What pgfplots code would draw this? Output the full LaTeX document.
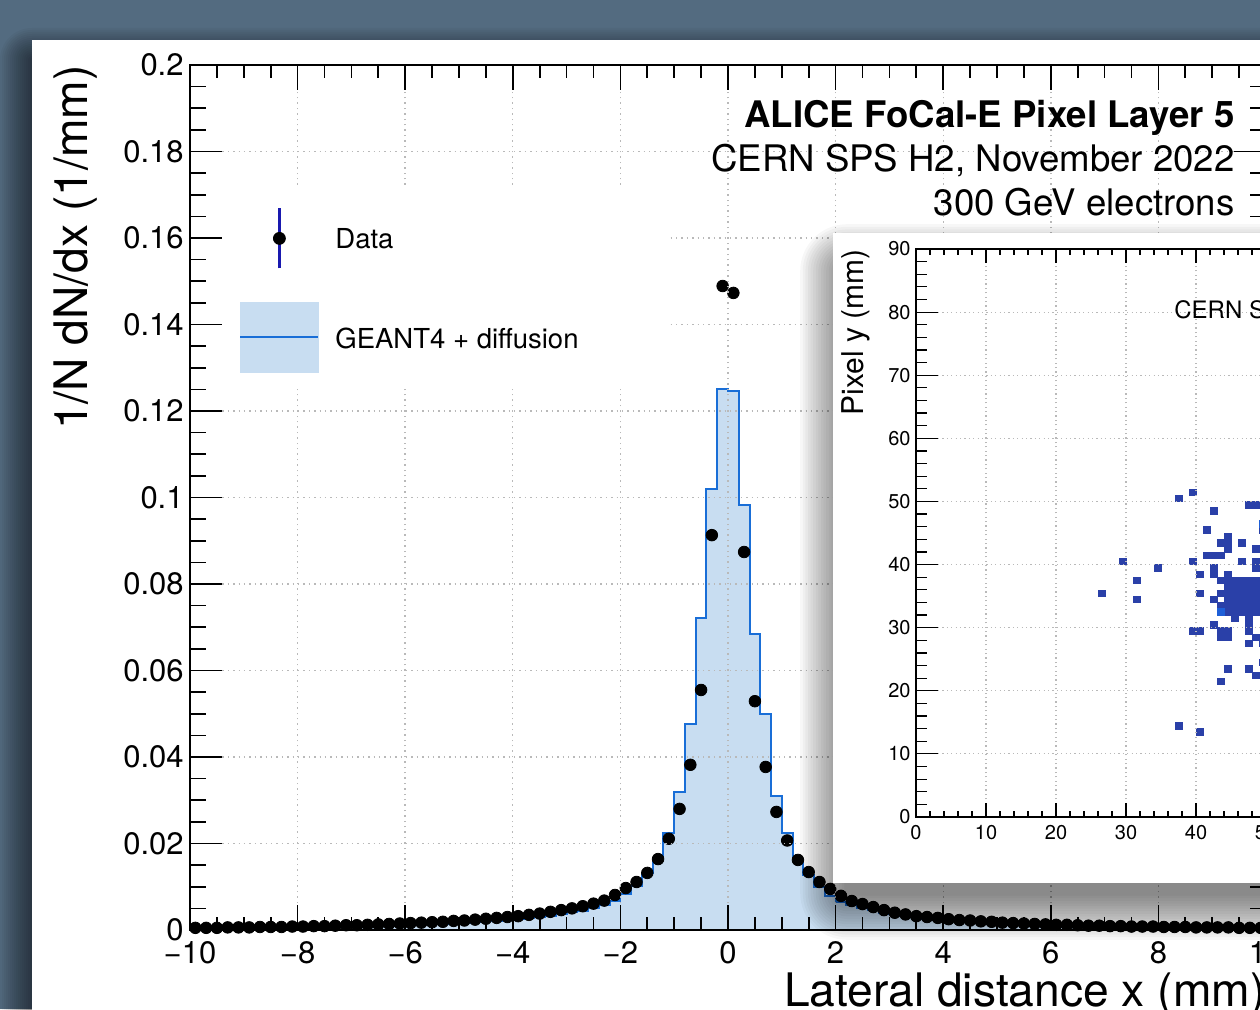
\documentclass[border=0pt]{standalone}
\usepackage{pgfplots}
\pgfplotsset{compat=1.18}
\usepackage{fontspec}
\setmainfont{TeX Gyre Heros}
\definecolor{bgc}{RGB}{83,107,128}
\definecolor{histline}{RGB}{25,110,215}
\definecolor{histfill}{RGB}{200,221,241}
\definecolor{errblue}{RGB}{25,25,175}
\definecolor{hitblue}{RGB}{42,64,168}
\definecolor{hitbright}{RGB}{30,95,215}
\definecolor{gridc}{RGB}{185,185,185}
\newcommand{\fs}[1]{\fontsize{#1}{#1}\selectfont}

\begin{document}
\begin{tikzpicture}
\useasboundingbox (0pt,0pt) rectangle (630pt,504.5pt);
\clip (0pt,0pt) rectangle (630pt,504.5pt);
\fill[bgc] (0pt,0pt) rectangle (630pt,504.5pt);
\foreach \i in {1,...,16}{
  \fill[black,opacity=0.035,rounded corners=\i pt] (16pt-\i pt,-40pt) rectangle (700pt,474.5pt+\i pt);
}
\fill[white] (16pt,-40pt) rectangle (700pt,484.5pt);

% ---------------- main axis (content, grid, x ticks, labels)
\begin{axis}[
  at={(95pt,39.5pt)}, anchor=south west, scale only axis,
  width=538pt, height=432.5pt,
  xmin=-10, xmax=10, ymin=0, ymax=0.2,
  axis on top, clip mode=individual,
  axis line style={line width=1.3pt},
  tick align=inside,
  xtick={-10,-8,-6,-4,-2,0,2,4,6,8,10},
  xticklabels={−10,−8,−6,−4,−2,0,2,4,6,8,10},
  minor x tick num=3,
  ytick={0,0.02,0.04,0.06,0.08,0.1,0.12,0.14,0.16,0.18,0.2},
  yticklabels={0,0.02,0.04,0.06,0.08,0.1,0.12,0.14,0.16,0.18,0.2},
  ytick style={draw=none},
  major tick length=12.5pt, minor tick length=6.5pt,
  every tick/.append style={black, line width=0.85pt},
  grid=major,
  major grid style={gridc, line width=0.7pt, dash pattern=on 0.7pt off 2pt},
  ticklabel style={font=\fs{15.5}},
  xticklabel style={inner sep=0pt, yshift=-5.5pt},
  yticklabel style={inner sep=0pt, xshift=-3pt},
  xlabel={Lateral distance x (mm)},
  ylabel={1/N dN/dx (1/mm)},
  label style={font=\fs{23.1}},
  xlabel style={at={(axis description cs:1,-0.0879)}, anchor=base east, inner sep=0pt},
  ylabel style={at={(axis description cs:-0.0948,1)}, anchor=base east, inner sep=0pt},
]
\addplot[const plot mark left, fill=histfill, draw=histline, line width=1pt] coordinates {
(-10,0.0004)(-9.8,0.0004)(-9.6,0.0004)(-9.4,0.0004)(-9.2,0.0004)(-9.0,0.0005)(-8.8,0.0005)(-8.6,0.0005)(-8.4,0.0005)(-8.2,0.0006)
(-8.0,0.0006)(-7.8,0.0006)(-7.6,0.0007)(-7.4,0.0007)(-7.2,0.0008)(-7.0,0.0008)(-6.8,0.0009)(-6.6,0.0009)(-6.4,0.0010)(-6.2,0.0011)
(-6.0,0.0012)(-5.8,0.0013)(-5.6,0.0013)(-5.4,0.0014)(-5.2,0.0015)(-5.0,0.0017)(-4.8,0.0018)(-4.6,0.0020)(-4.4,0.0021)(-4.2,0.0023)
(-4.0,0.0025)(-3.8,0.0027)(-3.6,0.0030)(-3.4,0.0033)(-3.2,0.0037)(-3.0,0.0041)(-2.8,0.0045)(-2.6,0.0051)(-2.4,0.0057)(-2.2,0.0066)
(-2.0,0.0083)(-1.8,0.0102)(-1.6,0.0132)(-1.4,0.0167)(-1.2,0.0225)(-1.0,0.0319)(-0.8,0.0476)(-0.6,0.0721)(-0.4,0.1020)(-0.2,0.1251)
(0.0,0.1246)(0.2,0.0983)(0.4,0.0684)(0.6,0.0500)(0.8,0.0310)(1.0,0.0224)(1.2,0.0164)(1.4,0.0127)(1.6,0.0099)(1.8,0.0079)
(2.0,0.0065)(2.2,0.0058)(2.4,0.0051)(2.6,0.0046)(2.8,0.0040)(3.0,0.0036)(3.2,0.0032)(3.4,0.0029)(3.6,0.0026)(3.8,0.0024)
(4.0,0.0022)(4.2,0.0020)(4.4,0.0018)(4.6,0.0017)(4.8,0.0015)(5.0,0.0014)(5.2,0.0013)(5.4,0.0012)(5.6,0.0011)(5.8,0.0011)
(6.0,0.0010)(6.2,0.0009)(6.4,0.0009)(6.6,0.0008)(6.8,0.0008)(7.0,0.0007)(7.2,0.0007)(7.4,0.0007)(7.6,0.0006)(7.8,0.0006)
(8.0,0.0006)(8.2,0.0005)(8.4,0.0005)(8.6,0.0005)(8.8,0.0005)(9.0,0.0004)(9.2,0.0004)(9.4,0.0004)(9.6,0.0004)(9.8,0.0004)
(10,0.0004)} \closedcycle;
\addplot[only marks, mark=*, mark size=2.9pt, mark options={draw=black, fill=black}] coordinates {
(-9.9,0.0005)(-9.7,0.0005)(-9.5,0.0005)(-9.3,0.0006)(-9.1,0.0006)(-8.9,0.0006)(-8.7,0.0007)(-8.5,0.0007)(-8.3,0.0007)(-8.1,0.0008)
(-7.9,0.0008)(-7.7,0.0009)(-7.5,0.0009)(-7.3,0.0010)(-7.1,0.0011)(-6.9,0.0011)(-6.7,0.0012)(-6.5,0.0013)(-6.3,0.0014)(-6.1,0.0015)
(-5.9,0.0016)(-5.7,0.0017)(-5.5,0.0018)(-5.3,0.0019)(-5.1,0.0021)(-4.9,0.0022)(-4.7,0.0024)(-4.5,0.0026)(-4.3,0.0028)(-4.1,0.0030)
(-3.9,0.0032)(-3.7,0.0035)(-3.5,0.0038)(-3.3,0.0042)(-3.1,0.0046)(-2.9,0.0050)(-2.7,0.0055)(-2.5,0.0061)(-2.3,0.0068)(-2.1,0.0081)
(-1.9,0.0097)(-1.7,0.0111)(-1.5,0.0132)(-1.3,0.0164)(-1.1,0.0211)(-0.9,0.0280)(-0.7,0.0382)(-0.5,0.0555)(-0.3,0.0913)(-0.1,0.1489)
(0.1,0.1473)(0.3,0.0874)(0.5,0.0529)(0.7,0.0377)(0.9,0.0273)(1.1,0.0207)(1.3,0.0162)(1.5,0.0134)(1.7,0.0111)(1.9,0.0095)
(2.1,0.0079)(2.3,0.0067)(2.5,0.0060)(2.7,0.0053)(2.9,0.0046)(3.1,0.0040)(3.3,0.0036)(3.5,0.0032)(3.7,0.0030)(3.9,0.0028)
(4.1,0.0025)(4.3,0.0023)(4.5,0.0022)(4.7,0.0020)(4.9,0.0019)(5.1,0.0017)(5.3,0.0016)(5.5,0.0015)(5.7,0.0014)(5.9,0.0013)
(6.1,0.0012)(6.3,0.0012)(6.5,0.0011)(6.7,0.0010)(6.9,0.0010)(7.1,0.0009)(7.3,0.0009)(7.5,0.0008)(7.7,0.0008)(7.9,0.0008)
(8.1,0.0007)(8.3,0.0007)(8.5,0.0007)(8.7,0.0006)(8.9,0.0006)(9.1,0.0006)(9.3,0.0006)(9.5,0.0005)(9.7,0.0005)(9.9,0.0005)};
\end{axis}

% ---------------- overlay: y ticks, frame, legend
\begin{axis}[
  at={(95pt,39.5pt)}, anchor=south west, scale only axis,
  width=538pt, height=432.5pt,
  xmin=-10, xmax=10, ymin=0, ymax=0.2,
  axis on top,
  axis line style={line width=1.3pt},
  tick align=inside, xtick=\empty,
  ytick={0,0.02,0.04,0.06,0.08,0.1,0.12,0.14,0.16,0.18,0.2},
  yticklabel=\empty, minor y tick num=3,
  major tick length=16pt, minor tick length=8pt,
  every tick/.append style={black, line width=0.85pt},
  legend cell align=left,
  legend style={at={(axis description cs:0.04554,0.8665)}, anchor=north west,
    draw=none, fill=none, inner sep=0pt, row sep=0pt, column sep=8pt,
    font=\fs{13.75}, nodes={inner sep=0pt}},
]
\fill[white] (axis cs:-9.96,0.1256) rectangle (axis cs:-1.115,0.1718);
\addlegendimage{legend image code/.code={
  \path[draw=none,fill=none] (0pt,-19.75pt) rectangle (39pt,29.75pt);
  \draw[errblue, line width=1.1pt] (19.5pt,-14pt) -- (19.5pt,16pt);
  \fill[black] (19.5pt,1pt) circle (3pt);
}}
\addlegendentry{Data}
\addlegendimage{legend image code/.code={
  \path[draw=none,fill=none] (0pt,-19.75pt) rectangle (39pt,29.75pt);
  \fill[histfill] (0pt,-16.5pt) rectangle (39pt,18.5pt);
  \draw[histline, line width=1pt] (0pt,1pt) -- (39pt,1pt);
}}
\addlegendentry{GEANT4 + diffusion}
\end{axis}

% ---------------- title block
\node[anchor=base east, inner sep=0pt, font=\fs{18.3}\bfseries] at (617.5pt,440.5pt) {ALICE FoCal-E Pixel Layer 5};
\node[anchor=base east, inner sep=0pt, font=\fs{18.3}] at (617.5pt,418.5pt) {CERN SPS H2, November 2022};
\node[anchor=base east, inner sep=0pt, font=\fs{18.3}] at (617.5pt,396.5pt) {300 GeV electrons};

% ---------------- inset shadow and panel
\foreach \i in {1,...,18}{
  \fill[black,opacity=0.03,rounded corners=1.3*\i pt] (416.5pt+7pt-1.3*\i pt,63pt-12pt+7pt-1.3*\i pt) rectangle (650pt-7pt+1.3*\i pt,388pt-12pt-7pt+1.3*\i pt);
}
\fill[white] (416.5pt,63pt) rectangle (660pt,388pt);

\begin{axis}[
  at={(458pt,96pt)}, anchor=south west, scale only axis,
  width=210pt, height=284pt,
  xmin=0, xmax=60, ymin=0, ymax=90,
  axis on top, clip mode=individual,
  axis line style={line width=0.8pt},
  tick align=inside,
  xtick={0,10,20,30,40,50,60}, ytick={0,10,20,30,40,50,60,70,80,90},
  xticklabels={0,10,20,30,40,50,60}, yticklabels={0,10,20,30,40,50,60,70,80,90},
  minor y tick num=4,
  xtick style={draw=none},
  major tick length=11pt, minor tick length=5.5pt,
  every tick/.append style={black, line width=0.6pt},
  grid=major, major grid style={gridc, line width=0.6pt, dash pattern=on 0.6pt off 1.6pt},
  ticklabel style={font=\fs{10}},
  xticklabel style={inner sep=0pt, yshift=-4pt},
  yticklabel style={inner sep=0pt, xshift=-2.5pt},
  ylabel={Pixel y (mm)},
  ylabel style={font=\fs{15}, at={(axis description cs:-0.1262,1)}, anchor=base east, inner sep=0pt},
]
\addplot[only marks, mark=square*, mark size=1.62pt, mark options={xscale=1.1, draw=hitblue, fill=hitblue, line width=0.2pt}] coordinates {
(37.5,50.5)(39.5,51.5)(42.5,48.5)(47.5,49.5)(48.5,49.5)(49.5,49.5)(41.5,45.5)(49.5,45.5)(44.5,44.5)(43.5,43.5)(44.5,43.5)(46.5,43.5)
(44.5,42.5)(48.5,42.5)(41.5,41.5)(42.5,41.5)(43.5,41.5)(29.5,40.5)(39.5,40.5)(46.5,40.5)(48.5,40.5)(48.5,39.5)(34.5,39.5)
(42.5,39.5)(42.5,38.5)(40.5,38.5)(44.5,38.5)(31.5,37.5)(43.5,37.5)(44.5,37.5)(45.5,37.5)(46.5,37.5)(47.5,37.5)(48.5,37.5)
(26.5,35.5)(40.5,35.5)(43.5,35.5)(31.5,34.5)(42.5,34.5)
(44.5,32.5)(45.5,32.5)(46.5,32.5)(47.5,32.5)(48.5,32.5)(49.5,32.5)
(44.5,33.5)(45.5,33.5)(46.5,33.5)(47.5,33.5)(48.5,33.5)(49.5,33.5)
(44.5,34.5)(45.5,34.5)(46.5,34.5)(47.5,34.5)(48.5,34.5)(49.5,34.5)
(44.5,35.5)(45.5,35.5)(46.5,35.5)(47.5,35.5)(48.5,35.5)(49.5,35.5)
(44.5,36.5)(45.5,36.5)(46.5,36.5)(47.5,36.5)(48.5,36.5)(49.5,36.5)
(43.5,33.5)(45.5,31.5)(47.5,31.5)(47.5,30.5)(47.5,29.5)(42.5,30.5)(39.5,29.5)(40.5,29.5)(43.5,29.5)(44.5,29.5)
(43.5,28.5)(44.5,28.5)(48.5,28.5)(47.5,27.5)(49.5,27.5)(44.5,23.5)(47.5,23.5)(48.5,22.5)(49.5,24.5)(43.5,21.5)
(37.5,14.5)(40.5,13.5)};
\addplot[only marks, mark=square*, mark size=1.62pt, mark options={xscale=1.1, draw=hitbright, fill=hitbright, line width=0.2pt}] coordinates {
(43.5,32.5)(49.5,46.5)};
\end{axis}
\begin{axis}[
  at={(458pt,96pt)}, anchor=south west, scale only axis,
  width=210pt, height=284pt,
  xmin=0, xmax=60, ymin=0, ymax=90,
  axis line style={line width=0.8pt},
  tick align=inside, ytick=\empty,
  xtick={0,10,20,30,40,50,60}, xticklabel=\empty, minor x tick num=4,
  major tick length=7pt, minor tick length=3pt,
  every tick/.append style={black, line width=0.6pt},
]
\end{axis}
\node[anchor=base west, inner sep=0pt, font=\fs{12}] at (587pt,345pt) {CERN SPS H2, November 2022};
\end{tikzpicture}
\end{document}
